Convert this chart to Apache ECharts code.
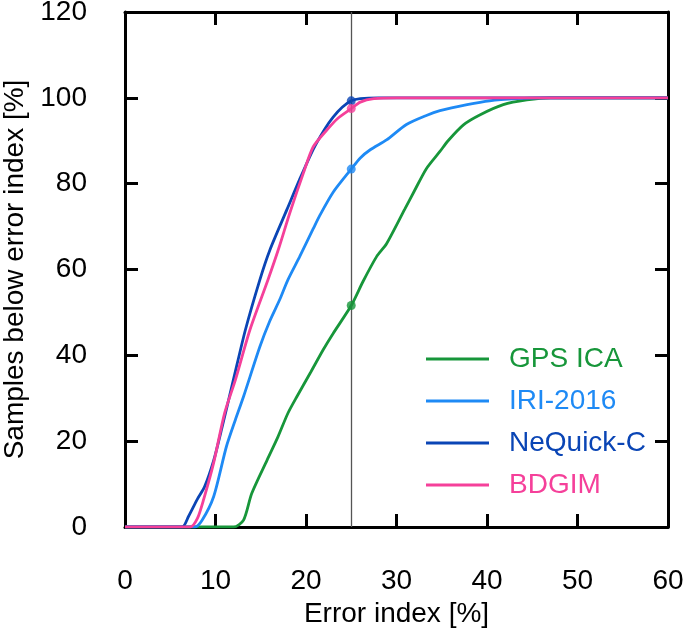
<!DOCTYPE html>
<html>
<head>
<meta charset="utf-8">
<script src="https://cdn.jsdelivr.net/npm/echarts@6/dist/echarts.min.js"></script>
<style>
html,body{margin:0;padding:0;background:#fff;}
#chart{width:685px;height:629px;}
</style>
</head>
<body>
<div id="chart"></div>
<script>
// Series data: [error index %, samples below %]
var gpsIca = [[0,0],[12.0,0],[13.1,1.6],[14.0,7.8],[15.7,15.6],[16.9,21],[18.0,26.5],[19.0,30.4],[20.5,36],[21.9,41.3],[23.0,45.1],[25,51.6],[26.3,57.2],[27.8,63],[28.9,66],[30.9,74],[31.9,78],[33.3,83.5],[34.8,87.5],[35.7,90],[37.4,93.7],[39.2,96],[41.8,98.4],[44.4,99.5],[47,100],[60,100]];
var iri2016 = [[0,0],[7.7,0],[8.5,1.5],[9.8,7.1],[11.2,18.7],[12.2,25],[13.1,30.4],[14.9,42],[16.0,48],[17.1,53],[18.0,57.6],[19.3,63],[20.8,69.5],[21.5,72.5],[23.0,78],[25,83.4],[26,86],[27.1,87.9],[28.9,90.2],[31.1,93.8],[33.3,95.9],[34.8,97],[37.8,98.4],[40.3,99.3],[43.3,99.8],[46,100],[60,100]];
var neQuickC = [[0,0],[6.3,0],[7.0,2.4],[8.0,6.5],[8.8,9.4],[9.8,15.5],[10.7,23],[12.0,34.5],[13.3,45.9],[14.9,57.6],[16.0,64.5],[17.9,74],[19.3,81],[20.8,88],[22.1,92.8],[23.0,95.5],[24.0,97.8],[25,99.3],[26,99.8],[28,100],[60,100]];
var bdgim = [[0,0],[7.2,0],[8.0,2],[8.7,6.5],[9.8,15],[11.0,26.5],[12.2,34.3],[13.8,45.9],[15.8,57.6],[17.0,65],[18.2,73.1],[19.7,82.4],[20.8,88.6],[22.3,92.5],[23.5,95.2],[25,97.5],[26,99],[27.5,99.8],[30,100],[60,100]];
var seriesNames = ['GPS ICA','IRI-2016','NeQuick-C','BDGIM'];
var seriesColors = ['#17963a','#1e8af5','#0a45b5','#f5409a'];
var markX = 25;
var xTicks = {min:0, max:60, interval:10};
var yTicks = {min:0, max:120, interval:20};

var allData = [gpsIca, iri2016, neQuickC, bdgim];
var font = "'Liberation Sans', Arial, sans-serif";

function valueAt(arr, x){
  for (var i=0;i<arr.length;i++){ if (arr[i][0]===x) return arr[i][1]; }
  return null;
}

var series = [];
allData.forEach(function(d, i){
  series.push({
    name: seriesNames[i], type:'line', data:d, showSymbol:false, smooth:0.25,
    lineStyle:{color:seriesColors[i], width:2.8}, itemStyle:{color:seriesColors[i]},
    z: 3, animation:false
  });
});
allData.forEach(function(d, i){
  series.push({
    name: seriesNames[i]+'-mark', type:'scatter', data:[[markX, valueAt(d, markX)]],
    symbolSize:9, itemStyle:{color:seriesColors[i]}, z:5, animation:false
  });
});
series[0].markLine = {
  silent:true, symbol:['none','none'], label:{show:false},
  lineStyle:{color:'#555', width:1.3, type:'solid'},
  data:[{xAxis:markX}], animation:false
};

var axisCommon = {
  type:'value', splitLine:{show:false},
  axisLine:{show:true, onZero:false, lineStyle:{color:'#000', width:3}},
  axisTick:{show:true, inside:true, length:13, lineStyle:{color:'#000', width:3}}
};

var chart = echarts.init(document.getElementById('chart'));
chart.setOption({
  backgroundColor:'#fff',
  animation:false,
  grid:{left:125, right:17, top:12, bottom:102, outerBoundsMode:'none', containLabel:false},
  legend:{
    orient:'vertical', left:426, top:345, padding:0, itemWidth:63, itemHeight:3, icon:'rect',
    itemGap:14, textStyle:{fontSize:28, fontFamily:font, padding:[0,0,0,15]},
    data: seriesNames.map(function(n,i){return {name:n, textStyle:{color:seriesColors[i]}};})
  },
  xAxis:[
    Object.assign({}, axisCommon, {
      min:xTicks.min, max:xTicks.max, interval:xTicks.interval, position:'bottom',
      name:'Error index [%]', nameLocation:'middle', nameGap:66,
      nameTextStyle:{fontSize:28, color:'#000', fontFamily:font},
      axisLabel:{fontSize:28, color:'#000', fontFamily:font, margin:40}
    }),
    Object.assign({}, axisCommon, {
      min:xTicks.min, max:xTicks.max, interval:xTicks.interval, position:'top',
      axisLabel:{show:false}
    })
  ],
  yAxis:[
    Object.assign({}, axisCommon, {
      min:yTicks.min, max:yTicks.max, interval:yTicks.interval, position:'left',
      name:'Samples below error index [%]', nameLocation:'middle', nameGap:92,
      nameTextStyle:{fontSize:28, color:'#000', fontFamily:font},
      axisLabel:{fontSize:28, color:'#000', fontFamily:font, margin:38}
    }),
    Object.assign({}, axisCommon, {
      min:yTicks.min, max:yTicks.max, interval:yTicks.interval, position:'right',
      axisLabel:{show:false}
    })
  ],
  series: series
});
</script>
</body>
</html>
